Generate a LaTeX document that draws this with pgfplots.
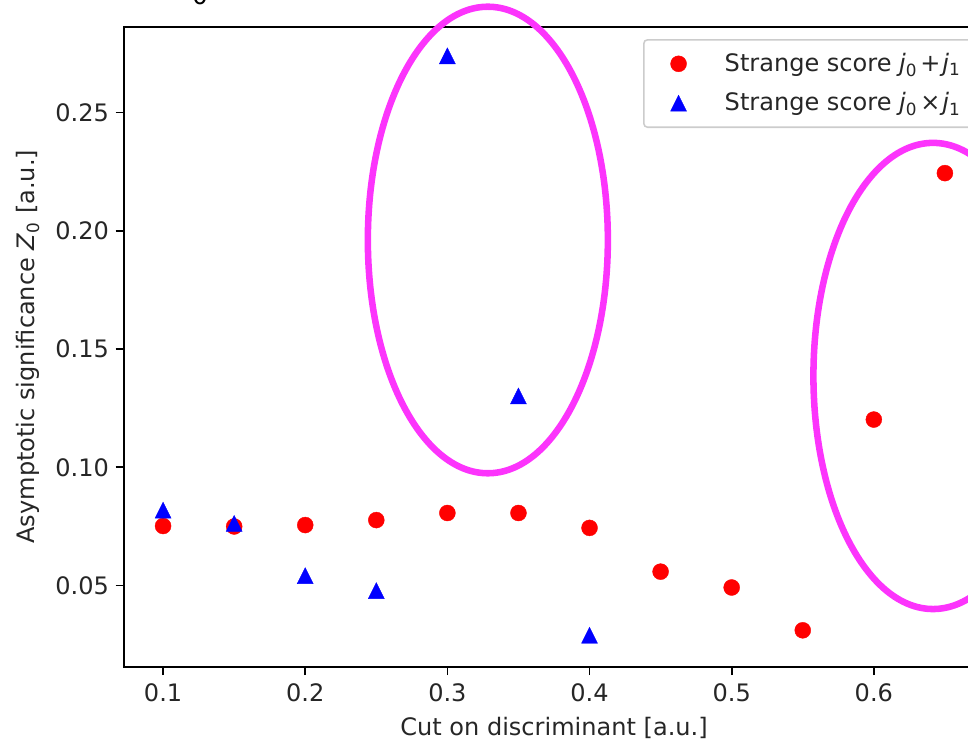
\documentclass[border=0pt]{standalone}
\usepackage{pgfplots}
\pgfplotsset{compat=1.18}
\usepackage{fontspec}
\setmainfont{DejaVu Sans}
\definecolor{mag}{RGB}{252,52,252}
\begin{document}
\begin{tikzpicture}
\useasboundingbox (-64.48pt,-38.64pt) rectangle (438.88pt,346.7pt);
\clip (-64.48pt,-38.64pt) rectangle (438.88pt,346.7pt);
\begin{axis}[
  at={(0pt,0pt)}, anchor=south west,
  scale only axis, width=447.2pt, height=332.8pt,
  xmin=0.0725, xmax=0.6775, ymin=0.0157, ymax=0.2863,
  xtick={0.1,0.2,0.3,0.4,0.5,0.6},
  xticklabels={0.1,0.2,0.3,0.4,0.5,0.6},
  ytick={0.05,0.10,0.15,0.20,0.25},
  yticklabels={0.05,0.10,0.15,0.20,0.25},
  tick pos=left, tick align=outside,
  major tick length=4.3pt,
  every tick/.style={black, line width=0.9pt},
  axis line style={line width=0.9pt},
  ticklabel style={font=\fontsize{12.5}{15}\selectfont, text=black!85},
  xticklabel style={yshift=-1pt},
  label style={font=\fontsize{12.5}{15}\selectfont, text=black!85},
  xlabel={Cut on discriminant [a.u.]},
  ylabel={Asymptotic significance \textit{Z}\textsubscript{0} [a.u.]},
  xlabel style={at={(axis description cs:0.5,-0.0958)}, anchor=center},
  ylabel style={at={(axis description cs:-0.1116,0.5)}, anchor=center},
  legend cell align=left,
  legend image code/.code={\path (0pt,0pt) (20pt,0pt); \draw[#1] plot coordinates {(10pt,0pt)};},
  legend style={at={(axis description cs:0.6035,0.9808)}, anchor=north west,
    draw=black!20, rounded corners=2pt, fill=white, line width=0.8pt,
    inner xsep=7.7pt, inner ysep=7pt, row sep=9.5pt,
    nodes={inner sep=0pt, anchor=west, text=black!85},
    font=\fontsize{12.5}{15}\selectfont,
    /tikz/every odd column/.append style={column sep=13.6pt}},
]
\addplot[only marks, mark=*, mark size=4.16pt, color=red, mark options={fill=red, draw=red, line width=0.2pt}]
  coordinates {
  (0.10,0.0752) (0.15,0.0750) (0.20,0.0756) (0.25,0.0777) (0.30,0.0807) (0.35,0.0807)
  (0.40,0.0744) (0.45,0.0559) (0.50,0.0492) (0.55,0.0311) (0.60,0.1202) (0.65,0.2244)
  };
\addlegendentry{Strange score \textit{j}\textsubscript{0}\hspace{1.5pt}+\hspace{1pt}\textit{j}\textsubscript{1}}
\addplot[only marks, mark=triangle*, mark size=4.8pt, color=blue, mark options={fill=blue, draw=blue, line width=0.2pt, yshift=-1.39pt, yscale=1.155}]
  coordinates {
  (0.10,0.0819) (0.15,0.0763) (0.20,0.0542) (0.25,0.0479) (0.30,0.2740) (0.35,0.1302) (0.40,0.0290)
  };
\addlegendentry{Strange score \textit{j}\textsubscript{0}\hspace{1.5pt}×\hspace{1pt}\textit{j}\textsubscript{1}}
\end{axis}
\draw[mag, line width=3.4pt] (189.2pt,221.9pt) ellipse [x radius=62.4pt, y radius=121.3pt];
\draw[mag, line width=3.4pt] (420.7pt,151.2pt) ellipse [x radius=62.2pt, y radius=121.2pt];
\node[anchor=base, inner sep=0pt] at (39.5pt,344.1pt) {\fontsize{13}{15}\selectfont 0};
\end{tikzpicture}
\end{document}
